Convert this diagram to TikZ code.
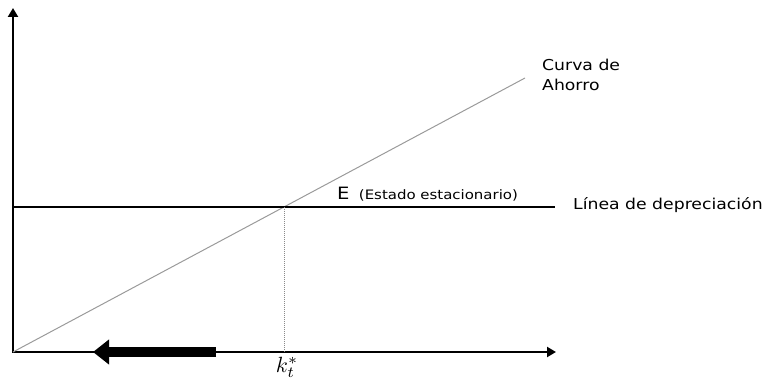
\documentclass[tikz,border=0pt]{standalone}
\usepackage{fontspec}
\usepackage{graphicx}
\usepackage{tikz}
\usetikzlibrary{arrows.meta,positioning,calc}
\newfontfamily\lblfont[FakeStretch=1.15]{DejaVu Sans}
\definecolor{ahorrogray}{HTML}{9A9A9A}
\definecolor{guidegray}{HTML}{8A8A8A}

\begin{document}
\begin{tikzpicture}[
  x=1pt,y=-1pt,
  axis/.style={line width=2.4pt,{Triangle[length=9pt,width=10pt]}-{Triangle[length=9pt,width=10pt]}},
  deprline/.style={line width=2.6pt},
  saveline/.style={draw=ahorrogray,line width=1pt},
  guide/.style={draw=guidegray,densely dotted,line width=1pt},
  push/.style={line width=10pt,-{Triangle[length=16pt,width=24pt]}},
  label/.style={font=\lblfont\fontsize{15}{20}\selectfont,inner sep=0pt,align=left},
  note/.style={font=\lblfont\fontsize{13}{15}\selectfont,inner sep=0pt}
]
\useasboundingbox (0,0) rectangle (769,387);

% axes
\coordinate (O) at (13,352);
\coordinate (ytop) at (13,8);
\coordinate (xend) at (556,352);
\draw[axis] (ytop) -- (O) -- (xend);

% saving curve and depreciation line
\coordinate (stop) at (525,78);
\coordinate (dleft) at (13,207);
\coordinate (dright) at (555,207);
\coordinate (E) at (284,207);
\coordinate (kfoot) at (284,352);
\draw[saveline] (O) -- (stop);
\draw[deprline] (dleft) -- (dright);
\draw[guide] (E) -- (kfoot);

% movement arrow
\coordinate (pushstart) at (216,352);
\coordinate (pushend) at (93,352);
\draw[push] (pushstart) -- (pushend);

% labels
\node[label,anchor=north west] (curva) at (542,59) {Curva de\\Ahorro};
\node[label,anchor=base west] (depr) at (573,210) {Línea de depreciación};
\node[label,font=\lblfont\fontsize{17}{19}\selectfont,anchor=base west] (Elbl) at (337,200) {E};
\node[note,base right=9pt of Elbl] (estado) {(Estado estacionario)};
\node[inner sep=0pt,below=5pt of kfoot,xshift=3pt] (kstar) {\scalebox{2.2}{$k_t^{*}$}};
\end{tikzpicture}
\end{document}
